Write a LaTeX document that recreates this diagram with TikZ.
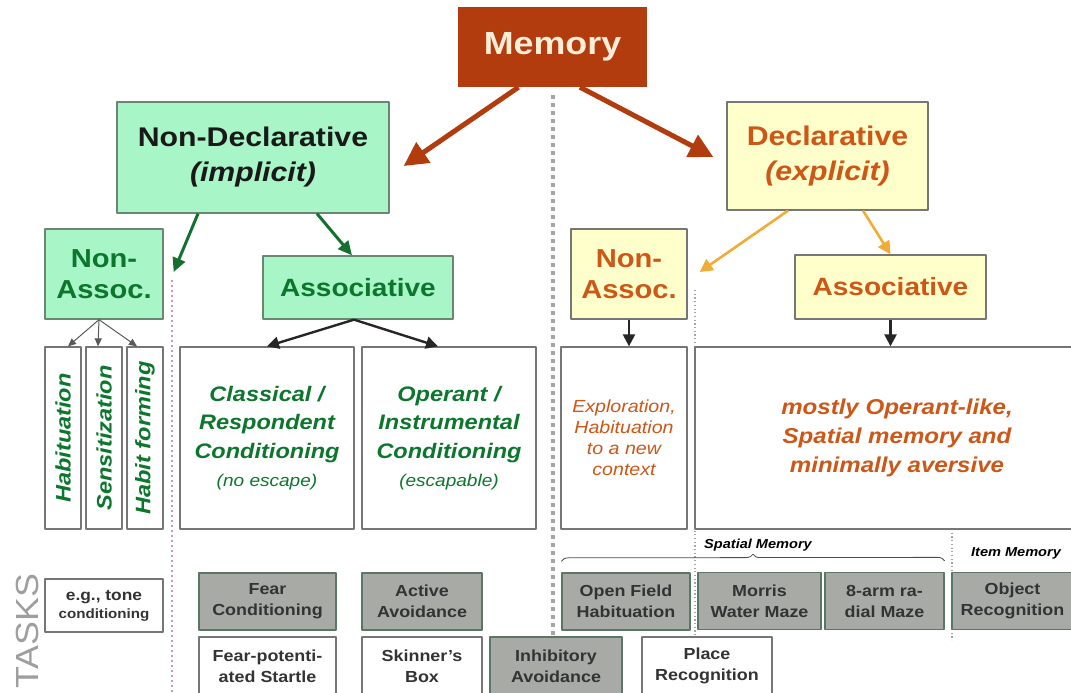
\documentclass[tikz,border=0pt]{standalone}
\usepackage{fontspec}
\setmainfont{Liberation Sans}[FakeStretch=1.12]
\usetikzlibrary{arrows.meta,decorations.pathreplacing}
\definecolor{memred}{RGB}{178,60,14}
\definecolor{memtext}{RGB}{255,238,215}
\definecolor{mint}{RGB}{168,245,200}
\definecolor{mintline}{RGB}{105,135,115}
\definecolor{leafgreen}{RGB}{12,118,45}
\definecolor{arrowgreen}{RGB}{22,112,45}
\definecolor{paleyellow}{RGB}{255,255,204}
\definecolor{rust}{RGB}{206,86,22}
\definecolor{arroworange}{RGB}{240,172,52}
\definecolor{taskgray}{RGB}{168,170,166}
\definecolor{taskline}{RGB}{90,118,100}
\definecolor{boxline}{RGB}{118,118,118}
\definecolor{dotgray}{RGB}{165,165,165}
\definecolor{dotpink}{RGB}{200,150,190}
\newcommand\fsz[2]{\fontsize{#1}{#2}\selectfont}
\begin{document}
\begin{tikzpicture}[x=1pt,y=-1pt,line join=round,
	box/.style={draw=boxline,line width=1.3pt,inner sep=0pt,align=center},
	greenbox/.style={box,fill=mint,draw=mintline,text=leafgreen,font=\bfseries\fsz{26}{31}},
	yellowbox/.style={box,fill=paleyellow,text=rust,font=\bfseries\fsz{26}{31}},
	plainbox/.style={box,fill=white},
	graytask/.style={box,fill=taskgray,draw=taskline,text=black!80,font=\bfseries\fsz{16}{21}},
	whitetask/.style={box,fill=white,text=black!80,font=\bfseries\fsz{16}{21}},
	sidelabel/.style={rotate=90,text=leafgreen,font=\bfseries\itshape\fsz{21}{24}},
	memarrow/.style={draw=memred,line width=5pt,-{Triangle[length=24pt,width=24pt]}},
	greenarrow/.style={draw=arrowgreen,line width=3pt,-{Triangle[length=14pt,width=13pt]}},
	orangearrow/.style={draw=arroworange,line width=2.6pt,-{Triangle[length=13pt,width=13pt]}},
	blackarrow/.style={draw=black!85,line width=2.4pt,-{Triangle[length=12pt,width=12pt]}},
	thinarrow/.style={draw=black!65,line width=1pt,-{Triangle[length=8pt,width=7pt]}},
	dividerline/.style={draw=dotgray,line width=1.2pt,dash pattern=on 1.2pt off 2.5pt}]
	\useasboundingbox (0,0) rectangle (1071,693);
	\def\rowy{438} % tâm hàng hộp lớn
	% đường chấm phân cách
	\draw[dotgray,line width=3.5pt,dash pattern=on 3.5pt off 4.5pt] (553,95) -- (553,693);
	\draw[dotpink,line width=2pt,dash pattern=on 2pt off 3pt] (172,280) -- (172,693);
	\draw[dividerline] (695,290) -- (695,640) (952,529) -- (952,640);
	% hàng 1, 2
	\node[fill=memred,text=memtext,inner sep=0pt,minimum width=189,minimum height=80,font=\bfseries\fsz{32}{36}] (memory) at (552.5,47) {Memory};
	\node[greenbox,text=black!90,minimum width=272,minimum height=111,font=\bfseries\fsz{27}{35}] (nondecl) at (253,157.5) {Non-Declarative\\\textit{(implicit)}};
	\node[yellowbox,minimum width=201,minimum height=108,font=\bfseries\fsz{27}{35}] (decl) at (827.5,156) {Declarative\\\textit{(explicit)}};
	% hàng 3
	\node[greenbox,minimum width=118,minimum height=90] (nassocL) at (104,274) {Non-\\Assoc.};
	\node[greenbox,minimum width=190,minimum height=63,font=\bfseries\fsz{25}{30}] (assocL) at (358,287.5) {Associative};
	\node[yellowbox,minimum width=116,minimum height=90] (nassocR) at (629,274) {Non-\\Assoc.};
	\node[yellowbox,minimum width=191,minimum height=64,font=\bfseries\fsz{25}{30}] (assocR) at (890.5,287) {Associative};
	% hàng 4
	\foreach \nm/\cx in {hab/63,sens/104,habit/145}
	\node[plainbox,minimum width=36,minimum height=182] (\nm) at (\cx,\rowy) {};
	\node[sidelabel] (habtxt) at (hab) {Habituation};
	\node[sidelabel] (senstxt) at (sens) {Sensitization};
	\node[sidelabel] (habittxt) at (habit) {Habit forming};
	\node[plainbox,minimum width=174,minimum height=182,text=leafgreen,font=\bfseries\itshape\fsz{21}{28.5}] (classical) at (267,\rowy) {Classical /\\Respondent\\Conditioning\\{\mdseries\fsz{17}{26}(no escape)}};
	\node[plainbox,minimum width=174,minimum height=182,text=leafgreen,font=\bfseries\itshape\fsz{21}{28.5}] (operant) at (449,\rowy) {Operant /\\Instrumental\\Conditioning\\{\mdseries\fsz{17}{26}(escapable)}};
	\node[plainbox,minimum width=126,minimum height=182,text=rust,font=\itshape\fsz{17.5}{21}] (explor) at (624,\rowy) {Exploration,\\Habituation\\to a new\\context};
	\node[plainbox,minimum width=404,minimum height=182,text=rust,font=\bfseries\itshape\fsz{21.5}{29}] (spatial) at (897,\rowy) {mostly Operant-like,\\Spatial memory and\\minimally aversive};
	% nhiệm vụ
	\node[rotate=90,text=black!38,font=\fsz{32}{32}] (taskslbl) at (27,631) {TASKS};
	\node[whitetask,minimum width=118,minimum height=53,font=\bfseries\fsz{15.5}{18}] (tone) at (104,605.5) {e.g., tone\\{\fsz{13.5}{16}conditioning}};
	\node[graytask,minimum width=137,minimum height=57] (fearcond) at (267.5,601.5) {Fear\\Conditioning};
	\node[graytask,minimum width=120,minimum height=57] (active) at (422,601.5) {Active\\Avoidance};
	\node[whitetask,minimum width=137,minimum height=58] (fearpot) at (267.5,666) {Fear-potenti-\\ated Startle};
	\node[whitetask,minimum width=120,minimum height=58] (skinner) at (422,666) {Skinner's\\Box};
	\node[graytask,minimum width=132,minimum height=58] (inhib) at (556,666) {Inhibitory\\Avoidance};
	\node[whitetask,minimum width=130,minimum height=58] (placerec) at (707,666) {Place\\Recognition};
	\node[graytask,minimum width=128,minimum height=57] (openfield) at (626,601.5) {Open Field\\Habituation};
	\node[graytask,minimum width=123,minimum height=57] (morris) at (759.5,601) {Morris\\Water Maze};
	\node[graytask,minimum width=119,minimum height=57] (eightarm) at (884.5,601) {8-arm ra-\\dial Maze};
	\node[graytask,minimum width=121,minimum height=57] (objrec) at (1012.5,601) {Object\\Recognition};
	\draw[decorate,decoration={brace,amplitude=7pt},draw=black!70,line width=0.8pt] ([yshift=11pt]openfield.north west) -- ([yshift=11pt]eightarm.north east);
	\node[font=\bfseries\itshape\fsz{13}{15}] (spatiallbl) at (758,545) {Spatial Memory};
	\node[font=\bfseries\itshape\fsz{13}{15}] (itemlbl) at (1016,553) {Item Memory};
	% mũi tên
	\draw[memarrow] ([xshift=-34pt]memory.south) -- ([xshift=14pt,yshift=-8.5pt]nondecl.east);
	\draw[memarrow] ([xshift=27.5pt]memory.south) -- ([xshift=-13pt,yshift=-1pt]decl.west);
	\draw[greenarrow] ([xshift=-55pt]nondecl.south) -- ([xshift=10pt,yshift=2pt]nassocL.east);
	\draw[greenarrow] ([xshift=64pt]nondecl.south) -- ([xshift=-6pt]assocL.north);
	\draw[orangearrow] ([xshift=-39.5pt]decl.south) -- ([xshift=12pt,yshift=2pt]nassocR.east);
	\draw[orangearrow] ([xshift=35.5pt]decl.south) -- (assocR.north);
	\foreach \nm/\dx in {hab/5,sens/-6,habit/-8}
	\draw[thinarrow] ([xshift=-5pt]nassocL.south) -- ([xshift=\dx pt]\nm.north);
	\draw[blackarrow] ([xshift=-4pt]assocL.south) -- (classical.north);
	\draw[blackarrow] ([xshift=-4pt]assocL.south) -- ([xshift=-11pt]operant.north);
	\draw[blackarrow] (nassocR.south) -- (nassocR.south |- explor.north);
	\draw[blackarrow] (assocR.south) -- (assocR.south |- spatial.north);
\end{tikzpicture}
\end{document}
